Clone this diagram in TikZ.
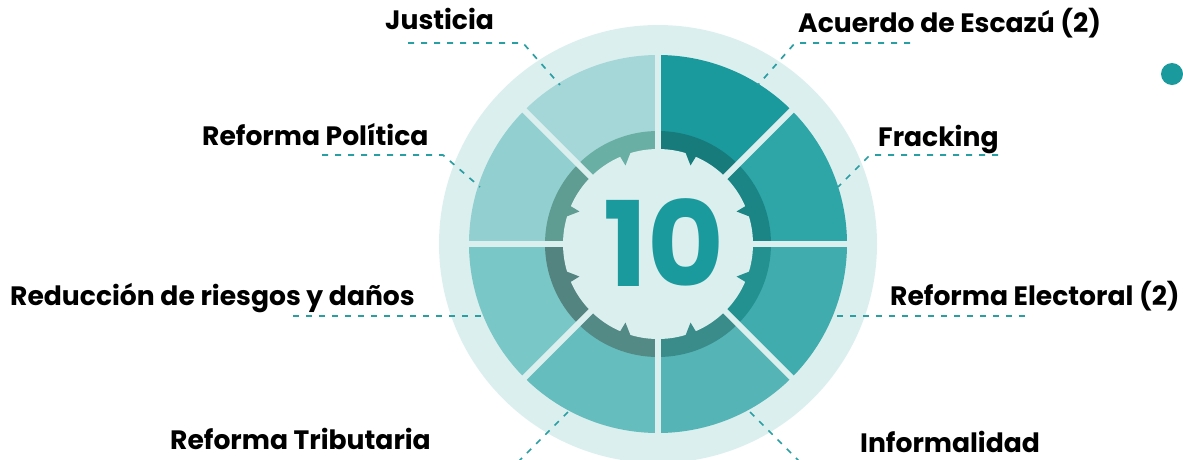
\documentclass[tikz,border=0pt]{standalone}
\usepackage{fontspec}
\setmainfont{Poppins}
\definecolor{bgl}{HTML}{DCEFEF}
\definecolor{sA}{HTML}{1B9A9E}
\definecolor{sB}{HTML}{2EA5A7}
\definecolor{sC}{HTML}{40ACAD}
\definecolor{sD}{HTML}{55B5B6}
\definecolor{sE}{HTML}{66BDBD}
\definecolor{sF}{HTML}{7AC7C8}
\definecolor{sG}{HTML}{92CFD0}
\definecolor{sH}{HTML}{A5D7D8}
\definecolor{rA}{HTML}{177B7B}
\definecolor{rB}{HTML}{1A8584}
\definecolor{rC}{HTML}{23918F}
\definecolor{rD}{HTML}{3A8C8A}
\definecolor{rE}{HTML}{538A86}
\definecolor{rF}{HTML}{54847F}
\definecolor{rG}{HTML}{5F9C91}
\definecolor{rH}{HTML}{6AAFA3}
\definecolor{dashc}{HTML}{2A9FA3}
\definecolor{numc}{HTML}{1B9A9E}
\tikzset{
  lbl/.style={anchor=base west, inner sep=0pt, font=\fontsize{26.6}{30}\selectfont\bfseries, text=black},
  leader/.style={draw=dashc, line width=1.7pt, dash pattern=on 6pt off 7pt},
  divider/.style={draw=bgl, line width=6pt},
}
\newcommand{\segm}[4]{%
  \fill[#3] (C) ++(#1:112) arc[start angle=#1, end angle=#2, radius=112] -- ($(C)+(#2:189)$) arc[start angle=#2, end angle=#1, radius=189] -- cycle;
  \fill[#4] (C) ++(#1:94) arc[start angle=#1, end angle=#2, radius=94] -- ($(C)+(#2:113)$) arc[start angle=#2, end angle=#1, radius=113] -- cycle;
}
\newcommand{\notch}[3]{%
  \fill[#2] ($(C)+(#1-#3*1:96)$) -- ($(C)+(#1+#3*6:96)$) -- ($(C)+(#1:85)$) -- cycle;
}
\usetikzlibrary{calc}
\begin{document}
\begin{tikzpicture}[x=1pt,y=-1pt]
\useasboundingbox (0,0) rectangle (1183,459);
\coordinate (C) at (658,244);
\begin{scope}
\clip (0,0) rectangle (1183,459);
\fill[bgl] (C) circle[radius=219];
\end{scope}
% segments (image angles, y downward)
\segm{-90}{-45}{sA}{rA}
\segm{-45}{0}{sB}{rB}
\segm{0}{45}{sC}{rC}
\segm{45}{90}{sD}{rD}
\segm{90}{135}{sE}{rE}
\segm{135}{180}{sF}{rF}
\segm{180}{225}{sG}{rG}
\segm{225}{270}{sH}{rH}
\fill[bgl] (C) circle[radius=95];
\notch{-67.5}{rA}{-1}
\notch{-22.5}{rB}{1}
\notch{22.5}{rC}{-1}
\notch{67.5}{rD}{1}
\notch{112.5}{rE}{-1}
\notch{157.5}{rF}{1}
\notch{202.5}{rG}{-1}
\notch{247.5}{rH}{1}
% dividers
\foreach \a in {0,45,...,315}{
  \draw[divider] ($(C)+(\a:92)$) -- ($(C)+(\a:190)$);
}
\node[inner sep=0pt, text=numc, font=\fontsize{118}{118}\selectfont\bfseries] (num) at (664,243) {10};
% dot
\fill[sA] (1172,74) circle[radius=11];
\node[inner sep=0pt] (dot) at (1172,74) {};
% labels
\node[lbl] (justicia) at (385,29) {Justicia};
\node[lbl] (escazu) at (798,32) {Acuerdo de Escazú (2)};
\node[lbl] (politica) at (202,145) {Reforma Política};
\node[lbl] (fracking) at (878,146) {Fracking};
\node[lbl] (reduccion) at (10,305) {Reducción de riesgos y daños};
\node[lbl] (electoral) at (890,305) {Reforma Electoral (2)};
\node[lbl] (tributaria) at (170,449) {Reforma Tributaria};
\node[lbl] (informalidad) at (860,452) {Informalidad};
% leader coordinates
\coordinate (jA) at (408,43); \coordinate (jB) at (523,43); \coordinate (jC) at (560,85);
\coordinate (eA) at (910,43); \coordinate (eB) at (795,43); \coordinate (eC) at (758,85);
\coordinate (pA) at (322,155); \coordinate (pB) at (443,155); \coordinate (pC) at (480,187);
\coordinate (fA) at (998,155); \coordinate (fB) at (870,155); \coordinate (fC) at (838,187);
\coordinate (rA) at (293,316); \coordinate (rB) at (482,316);
\coordinate (lA) at (1025,316); \coordinate (lB) at (835,316);
\coordinate (tA) at (568,412); \coordinate (tB) at (518,462);
\coordinate (iA) at (750,412); \coordinate (iB) at (800,462);
\draw[leader] (jA) -- (jB) -- (jC);
\draw[leader] (eA) -- (eB) -- (eC);
\draw[leader] (pA) -- (pB) -- (pC);
\draw[leader] (fA) -- (fB) -- (fC);
\draw[leader] (rA) -- (rB);
\draw[leader] (lA) -- (lB);
\draw[leader] (tA) -- (tB);
\draw[leader] (iA) -- (iB);
\end{tikzpicture}
\end{document}
